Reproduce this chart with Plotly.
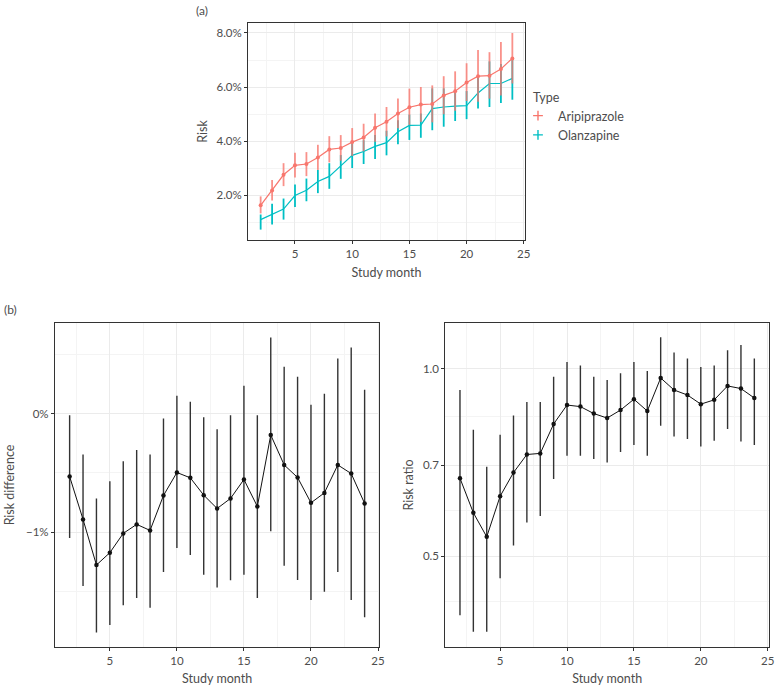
import plotly.graph_objects as go
import numpy as np

# ---------------- data ----------------
months = list(range(2, 25))

# Panel (a): risk (%) by type
ari_risk = [1.62, 2.17, 2.75, 3.10, 3.15, 3.39, 3.69, 3.74, 3.96, 4.13, 4.49, 4.71,
            5.02, 5.25, 5.35, 5.37, 5.69, 5.84, 6.17, 6.40, 6.42, 6.67, 7.06]
ari_upper = [1.95, 2.56, 3.18, 3.57, 3.59, 3.86, 4.18, 4.22, 4.48, 4.64, 5.02, 5.26,
             5.57, 5.94, 6.00, 6.06, 6.40, 6.58, 6.88, 7.37, 7.29, 7.67, 8.00]
ari_lower = [1.32, 1.80, 2.33, 2.65, 2.70, 2.93, 3.21, 3.27, 3.45, 3.62, 3.97, 4.17,
             4.47, 4.60, 4.71, 4.69, 4.99, 5.12, 5.48, 5.45, 5.57, 5.69, 6.13]

ola_risk = [1.09, 1.30, 1.48, 1.98, 2.18, 2.50, 2.69, 3.08, 3.47, 3.61, 3.80, 3.94,
            4.34, 4.58, 4.59, 5.20, 5.26, 5.29, 5.31, 5.78, 6.13, 6.13, 6.32]
ola_upper = [1.28, 1.68, 1.87, 2.39, 2.61, 2.93, 3.18, 3.48, 3.91, 4.03, 4.22, 4.38,
             4.77, 4.98, 5.02, 5.95, 5.95, 5.85, 5.85, 6.35, 6.95, 6.85, 7.10]
ola_lower = [0.72, 0.91, 1.09, 1.56, 1.77, 2.07, 2.23, 2.60, 3.00, 3.15, 3.33, 3.47,
             3.88, 4.04, 4.12, 4.40, 4.53, 4.74, 4.81, 5.20, 5.26, 5.41, 5.53]

# Panel (b) left: risk difference (%)
rd = [-0.531, -0.893, -1.278, -1.174, -1.011, -0.935, -0.986, -0.691, -0.497, -0.542,
      -0.688, -0.801, -0.716, -0.556, -0.784, -0.180, -0.433, -0.539, -0.753, -0.669,
      -0.433, -0.506, -0.758]
rd_upper = [-0.014, -0.346, -0.716, -0.570, -0.402, -0.306, -0.346, -0.042, 0.152, 0.101,
            -0.031, -0.132, -0.014, 0.236, -0.014, 0.643, 0.396, 0.312, 0.076, 0.169,
            0.466, 0.559, 0.202]
rd_lower = [-1.051, -1.455, -1.848, -1.784, -1.618, -1.556, -1.640, -1.337, -1.135, -1.194,
            -1.360, -1.469, -1.407, -1.360, -1.556, -0.992, -1.284, -1.404, -1.573, -1.503,
            -1.337, -1.573, -1.719]

# Panel (b) right: risk ratio
rr = [0.667, 0.587, 0.537, 0.624, 0.681, 0.728, 0.731, 0.815, 0.874, 0.869, 0.847, 0.833,
      0.858, 0.893, 0.855, 0.966, 0.924, 0.907, 0.877, 0.891, 0.938, 0.929, 0.897]
rr_upper = [0.924, 0.798, 0.696, 0.783, 0.841, 0.884, 0.884, 0.970, 1.025, 1.012, 0.970, 0.959,
            0.983, 1.025, 0.991, 1.123, 1.061, 1.038, 1.006, 1.012, 1.070, 1.091, 1.038]
rr_lower = [0.402, 0.378, 0.378, 0.461, 0.520, 0.566, 0.580, 0.665, 0.725, 0.725, 0.716, 0.707,
            0.735, 0.754, 0.725, 0.810, 0.778, 0.771, 0.750, 0.766, 0.800, 0.764, 0.754]

types = ["Aripiprazole", "Olanzapine"]
x_ticks = [5, 10, 15, 20, 25]
risk_ticks = [2, 4, 6, 8]
risk_ticklabels = ["2.0%", "4.0%", "6.0%", "8.0%"]
rd_ticks = [0, -1]
rd_ticklabels = ["0%", "\u22121%"]
rr_ticks = [0.5, 0.7, 1.0]
rr_ticklabels = ["0.5", "0.7", "1.0"]

# ---------------- styling ----------------
RED = "#F8766D"
CYAN = "#00BFC4"
FONT = "Lato"
TXT = "#4d4d4d"
GRID = "#ebebeb"
MINOR = "#f4f4f4"
W, H = 781, 689


def err(v, up, lo):
    v = np.array(v); up = np.array(up); lo = np.array(lo)
    return (up - v).tolist(), (v - lo).tolist()


fig = go.Figure()

e_up, e_lo = err(ola_risk, ola_upper, ola_lower)
fig.add_trace(go.Scatter(
    x=months, y=ola_risk, mode="lines", line=dict(color=CYAN, width=1.2),
    error_y=dict(type="data", array=e_up, arrayminus=e_lo, width=0, thickness=1.8, color=CYAN),
    showlegend=False, xaxis="x", yaxis="y"))
e_up, e_lo = err(ari_risk, ari_upper, ari_lower)
fig.add_trace(go.Scatter(
    x=months, y=ari_risk, mode="lines+markers", line=dict(color=RED, width=1.2),
    marker=dict(color=RED, size=4),
    error_y=dict(type="data", array=e_up, arrayminus=e_lo, width=0, thickness=1.8,
                 color="rgba(248,118,109,0.8)"),
    showlegend=False, xaxis="x", yaxis="y"))

for name, col in zip(types, [RED, CYAN]):
    fig.add_trace(go.Scatter(
        x=[None], y=[None], mode="markers", name=name,
        marker=dict(symbol="cross-thin", size=7, line=dict(color=col, width=1.4), color=col),
        xaxis="x", yaxis="y"))

e_up, e_lo = err(rd, rd_upper, rd_lower)
fig.add_trace(go.Scatter(
    x=months, y=rd, mode="lines+markers", line=dict(color="#111", width=1),
    marker=dict(color="#111", size=4.5),
    error_y=dict(type="data", array=e_up, arrayminus=e_lo, width=0, thickness=1.4, color="#333"),
    showlegend=False, xaxis="x2", yaxis="y2"))

e_up, e_lo = err(rr, rr_upper, rr_lower)
fig.add_trace(go.Scatter(
    x=months, y=rr, mode="lines+markers", line=dict(color="#111", width=1),
    marker=dict(color="#111", size=4.5),
    error_y=dict(type="data", array=e_up, arrayminus=e_lo, width=0, thickness=1.4, color="#333"),
    showlegend=False, xaxis="x3", yaxis="y3"))


def xdom(a, b):
    return [a / W, b / W]


def ydom(top, bot):
    return [1 - bot / H, 1 - top / H]


def px(x):
    return x / W


def py(y):
    return 1 - y / H


common_axis = dict(
    showline=True, linecolor="#333", linewidth=1, mirror=True,
    showgrid=True, gridcolor=GRID, gridwidth=1,
    ticks="outside", ticklen=3, tickcolor="#333", tickwidth=1,
    tickfont=dict(family=FONT, size=11.5, color=TXT),
    zeroline=False,
)
title_font = dict(family=FONT, size=12.5, color=TXT)

xminor = dict(showgrid=True, gridcolor=MINOR, gridwidth=0.6, tickmode="array",
              tickvals=[2.5, 7.5, 12.5, 17.5, 22.5], ticks="")

fig.update_layout(
    width=W, height=H,
    margin=dict(l=0, r=0, t=0, b=0),
    paper_bgcolor="white", plot_bgcolor="white",
    font=dict(family=FONT, color=TXT),
    xaxis=dict(common_axis, domain=xdom(250, 529), range=[0.9, 25.1],
               tickmode="array", tickvals=x_ticks, minor=xminor,
               title=dict(text="Study month", font=title_font, standoff=9), anchor="y"),
    yaxis=dict(common_axis, domain=ydom(23, 240), range=[0.335, 8.37],
               tickmode="array", tickvals=risk_ticks, ticktext=risk_ticklabels,
               minor=dict(showgrid=True, gridcolor=MINOR, gridwidth=0.6, tickmode="array",
                          tickvals=[1, 3, 5, 7], ticks=""),
               title=dict(text="Risk", font=title_font, standoff=6), anchor="x"),
    xaxis2=dict(common_axis, domain=xdom(55.3, 382.3), range=[0.9, 25.1],
                tickmode="array", tickvals=x_ticks, minor=xminor,
                title=dict(text="Study month", font=title_font, standoff=8), anchor="y2"),
    yaxis2=dict(common_axis, domain=ydom(322.7, 647.3), range=[-1.973, 0.768],
                tickmode="array", tickvals=rd_ticks, ticktext=rd_ticklabels,
                minor=dict(showgrid=True, gridcolor=MINOR, gridwidth=0.6, tickmode="array",
                           tickvals=[-1.5, -0.5, 0.5], ticks=""),
                title=dict(text="Risk difference", font=title_font, standoff=8), anchor="x2"),
    xaxis3=dict(common_axis, domain=xdom(448.7, 775), range=[0.9, 25.1],
                tickmode="array", tickvals=x_ticks, minor=xminor,
                title=dict(text="Study month", font=title_font, standoff=8), anchor="y3"),
    yaxis3=dict(common_axis, domain=ydom(322.7, 647.3), type="log",
                range=[np.log10(0.357), np.log10(1.185)],
                tickmode="array", tickvals=rr_ticks, ticktext=rr_ticklabels,
                minor=dict(showgrid=True, gridcolor=MINOR, gridwidth=0.6, tickmode="array",
                           tickvals=[0.423, 0.5916, 0.8367, 1.183], ticks=""),
                title=dict(text="Risk ratio", font=title_font, standoff=6), anchor="x3"),
    legend=dict(x=px(522), y=py(101), xanchor="left", yanchor="top",
                font=dict(family=FONT, size=12.5, color=TXT),
                bgcolor="rgba(0,0,0,0)", tracegroupgap=0, itemwidth=30),
    annotations=[
        dict(text="Type", x=px(535), y=py(98), xref="paper", yref="paper",
             xanchor="left", yanchor="middle", showarrow=False,
             font=dict(family=FONT, size=12.5, color=TXT)),
        dict(text="(a)", x=px(196), y=py(1), xref="paper", yref="paper",
             xanchor="left", yanchor="top", showarrow=False,
             font=dict(family=FONT, size=12, color=TXT)),
        dict(text="(b)", x=px(2), y=py(300), xref="paper", yref="paper",
             xanchor="left", yanchor="top", showarrow=False,
             font=dict(family=FONT, size=12, color=TXT)),
    ],
)

fig.write_html("out.html", config={"displayModeBar": False},
               post_script="document.body.style.margin='0';")
